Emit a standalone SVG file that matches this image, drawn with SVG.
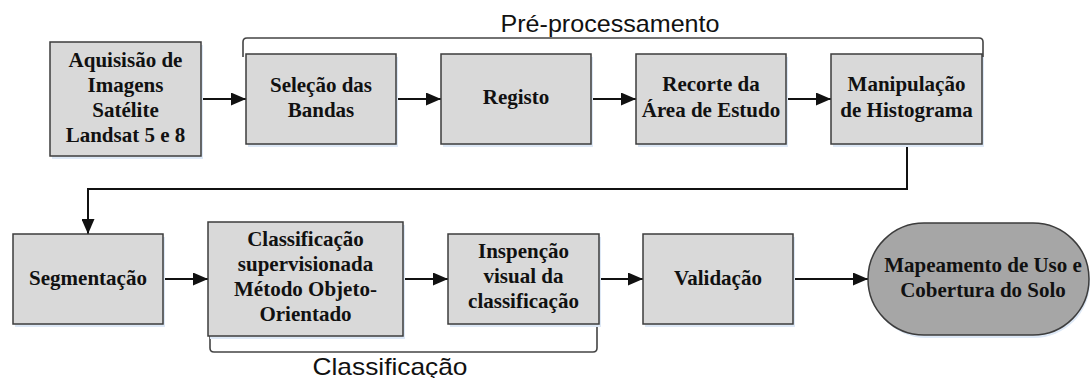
<svg xmlns="http://www.w3.org/2000/svg" width="1091" height="378" viewBox="0 0 1091 378">
<style>
.box{fill:#d9d9d9;stroke:#3c3c3c;stroke-width:1.5}
.term{fill:#a6a6a6;stroke:#3c3c3c;stroke-width:1.5}
.sh{fill:#dde8f6}
.t{font-family:"Liberation Serif","Times New Roman",serif;font-weight:bold;font-size:21px;fill:#111;text-anchor:middle}
.lbl{font-family:"Liberation Sans",Arial,sans-serif;font-size:24px;fill:#111;text-anchor:middle}
.c{fill:none;stroke:#111;stroke-width:2}
.br{fill:none;stroke:#444;stroke-width:1.6}
</style>
<defs>
<marker id="ah" markerWidth="15" markerHeight="13" refX="15" refY="6.5" orient="auto" markerUnits="userSpaceOnUse">
<path d="M0,0 L15,6.5 L0,13 Z" fill="#111"/>
</marker>
</defs>
<g id="labels">
<path class="br" d="M243,57 L243,42 Q243,38 247,38 L979,38 Q983,38 983,42 L983,57"/>
<text class="lbl" x="610" y="32" textLength="219" lengthAdjust="spacingAndGlyphs">Pré-processamento</text>
<path class="br" d="M210,322 L210,348 Q210,352 214,352 L593,352 Q597,352 597,348 L597,322"/>
<text class="lbl" x="390" y="375" textLength="155" lengthAdjust="spacingAndGlyphs">Classificação</text>
</g>
<g id="connectors">
<line class="c" x1="201" y1="99" x2="246" y2="99" marker-end="url(#ah)"/>
<line class="c" x1="396" y1="99" x2="441" y2="99" marker-end="url(#ah)"/>
<line class="c" x1="591" y1="99" x2="636" y2="99" marker-end="url(#ah)"/>
<line class="c" x1="786" y1="99" x2="831" y2="99" marker-end="url(#ah)"/>
<path class="c" d="M907,144 L907,189 L88,189 L88,234" marker-end="url(#ah)"/>
<line class="c" x1="163" y1="279" x2="208" y2="279" marker-end="url(#ah)"/>
<line class="c" x1="403" y1="279" x2="448" y2="279" marker-end="url(#ah)"/>
<line class="c" x1="599" y1="279" x2="643" y2="279" marker-end="url(#ah)"/>
<line class="c" x1="793" y1="279" x2="868" y2="279" marker-end="url(#ah)"/>
</g>
<g id="n1">
<rect class="sh" x="52" y="45" width="151" height="114"/>
<rect class="box" x="50" y="42" width="151" height="114"/>
<text class="t" x="125.5"><tspan x="125.5" y="67">Aquisisão de</tspan><tspan x="125.5" y="92">Imagens</tspan><tspan x="125.5" y="117">Satélite</tspan><tspan x="125.5" y="142">Landsat 5 e 8</tspan></text>
</g>
<g id="n2">
<rect class="sh" x="248" y="57" width="150" height="90"/>
<rect class="box" x="246" y="54" width="150" height="90"/>
<text class="t"><tspan x="321" y="92">Seleção das</tspan><tspan x="321" y="117">Bandas</tspan></text>
</g>
<g id="n3">
<rect class="sh" x="443" y="57" width="150" height="90"/>
<rect class="box" x="441" y="54" width="150" height="90"/>
<text class="t" x="516" y="104">Registo</text>
</g>
<g id="n4">
<rect class="sh" x="638" y="57" width="150" height="90"/>
<rect class="box" x="636" y="54" width="150" height="90"/>
<text class="t"><tspan x="711" y="91">Recorte da</tspan><tspan x="711" y="117">Área de Estudo</tspan></text>
</g>
<g id="n5">
<rect class="sh" x="833" y="57" width="151" height="90"/>
<rect class="box" x="831" y="54" width="151" height="90"/>
<text class="t"><tspan x="906.5" y="91">Manipulação</tspan><tspan x="906.5" y="117">de Histograma</tspan></text>
</g>
<g id="n6">
<rect class="sh" x="15" y="237" width="150" height="90"/>
<rect class="box" x="13" y="234" width="150" height="90"/>
<text class="t" x="88" y="285">Segmentação</text>
</g>
<g id="n7">
<rect class="sh" x="210" y="225" width="195" height="114"/>
<rect class="box" x="208" y="222" width="195" height="114"/>
<text class="t"><tspan x="305.5" y="246">Classificação</tspan><tspan x="305.5" y="271">supervisionada</tspan><tspan x="305.5" y="296">Método Objeto-</tspan><tspan x="305.5" y="321">Orientado</tspan></text>
</g>
<g id="n8">
<rect class="sh" x="450" y="237" width="151" height="90"/>
<rect class="box" x="448" y="234" width="151" height="90"/>
<text class="t"><tspan x="523.5" y="258">Inspenção</tspan><tspan x="523.5" y="283">visual da</tspan><tspan x="523.5" y="308">classificação</tspan></text>
</g>
<g id="n9">
<rect class="sh" x="645" y="237" width="150" height="90"/>
<rect class="box" x="643" y="234" width="150" height="90"/>
<text class="t" x="718" y="285">Validação</text>
</g>
<g id="n10">
<rect class="sh" x="870" y="226" width="220" height="112" rx="56" ry="56"/>
<rect class="term" x="868" y="223" width="221" height="112" rx="56" ry="56"/>
<text class="t"><tspan x="983" y="272">Mapeamento de Uso e</tspan><tspan x="983" y="297">Cobertura do Solo</tspan></text>
</g>
</svg>
